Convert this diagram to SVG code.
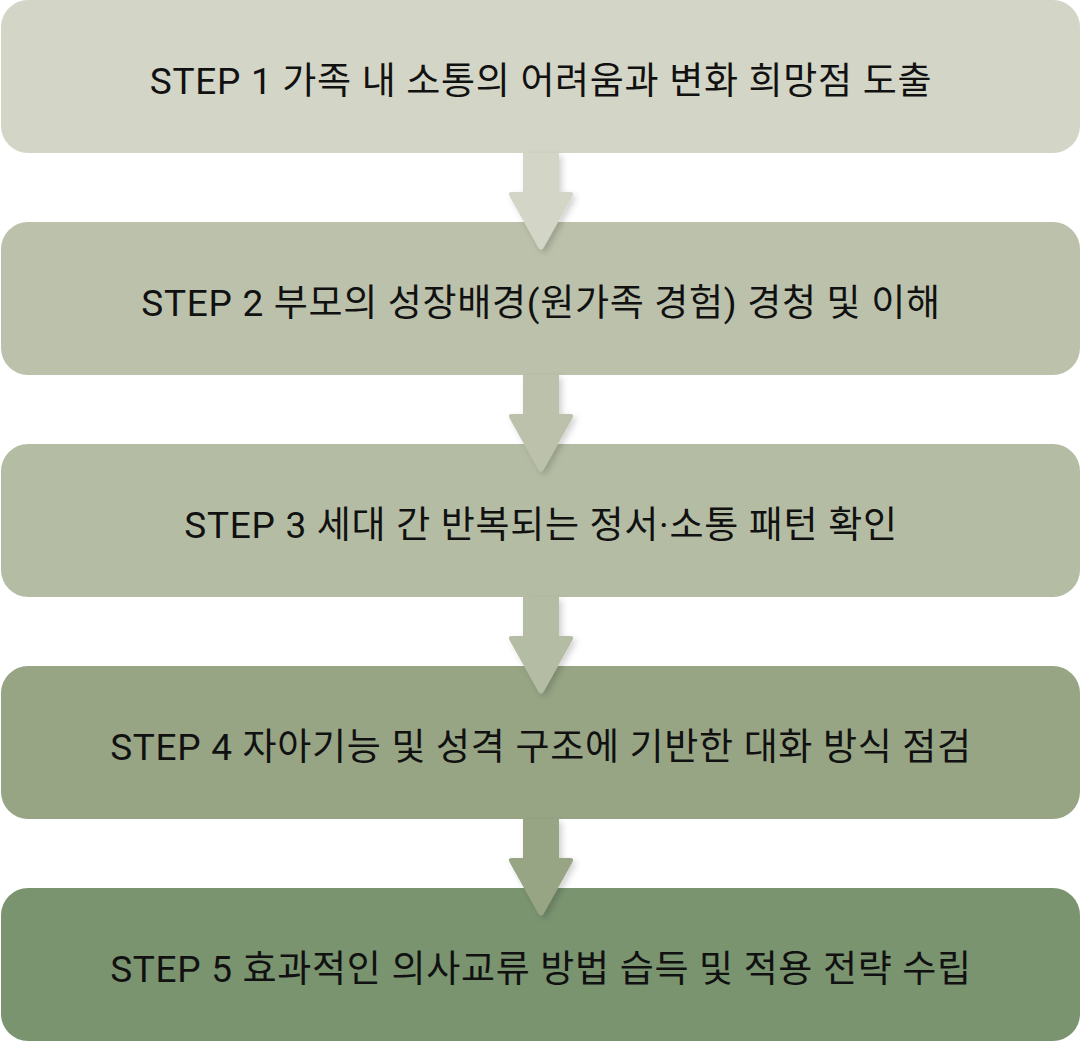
<svg xmlns="http://www.w3.org/2000/svg" width="1081" height="1042" viewBox="0 0 1081 1042">
<defs>
<style>
.box{stroke:none}
.lbl{font-family:Roboto,"Noto Sans CJK KR",sans-serif;font-size:37px;letter-spacing:0.7px;fill:#111;text-anchor:middle}
</style>
<filter id="sh" x="-30%" y="-30%" width="160%" height="160%">
<feDropShadow dx="3" dy="3" stdDeviation="3" flood-color="#000" flood-opacity="0.18"/>
</filter>
<path id="arr" d="M523,0 L559,0 L559,39 L570,39 Q575,39 572,44 L544,94 Q541,99 538,94 L510,44 Q507,39 512,39 L523,39 Z"/>
</defs>
<g id="node1"><rect class="box" x="1" y="0" width="1079" height="153" rx="27" fill="#d3d5c6"/><text class="lbl" x="541" y="94">STEP 1 가족 내 소통의 어려움과 변화 희망점 도출</text></g>
<g id="node2"><rect class="box" x="1" y="222" width="1079" height="153" rx="27" fill="#bbc1ab"/><text class="lbl" x="541" y="316">STEP 2 부모의 성장배경(원가족 경험) 경청 및 이해</text></g>
<g id="node3"><rect class="box" x="1" y="444" width="1079" height="153" rx="27" fill="#b4bda4"/><text class="lbl" x="541" y="538">STEP 3 세대 간 반복되는 정서·소통 패턴 확인</text></g>
<g id="node4"><rect class="box" x="1" y="666" width="1079" height="153" rx="27" fill="#97a585"/><text class="lbl" x="541" y="760">STEP 4 자아기능 및 성격 구조에 기반한 대화 방식 점검</text></g>
<g id="node5"><rect class="box" x="1" y="888" width="1079" height="153" rx="27" fill="#7a9470"/><text class="lbl" x="541" y="982">STEP 5 효과적인 의사교류 방법 습득 및 적용 전략 수립</text></g>
<g id="connectors" filter="url(#sh)">
<use href="#arr" y="153" fill="#d3d5c6"/>
<use href="#arr" y="375" fill="#bbc1ab"/>
<use href="#arr" y="597" fill="#b4bda4"/>
<use href="#arr" y="819" fill="#97a585"/>
</g>
</svg>
